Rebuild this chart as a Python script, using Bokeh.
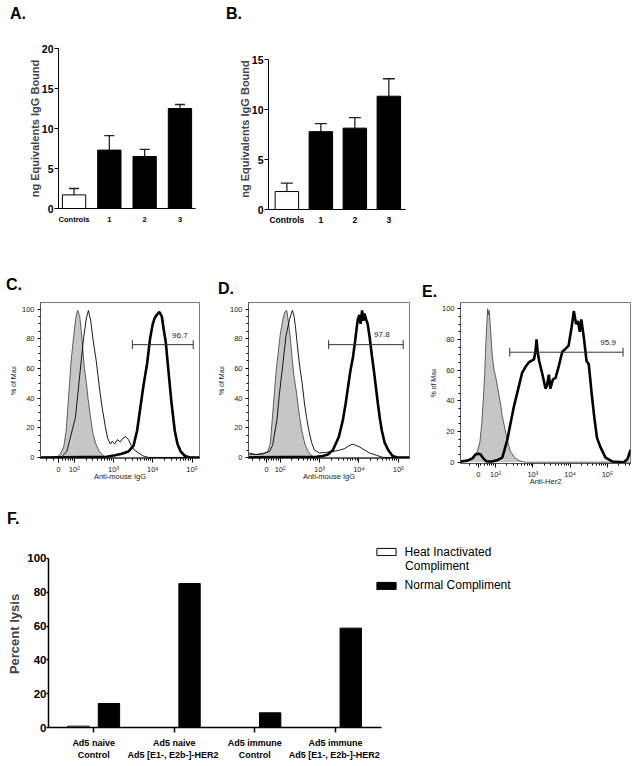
import math
from bokeh.plotting import figure
from bokeh.models import (FixedTicker, Legend, LegendItem, Whisker, TeeHead, Label,
                          ColumnDataSource, Range1d, Div)
from bokeh.layouts import row, column
from bokeh.transform import dodge
from bokeh.embed import file_html
from bokeh.resources import INLINE
from bokeh.core.properties import value

FONT = "Liberation Sans"

# ---------------- data ----------------
A_groups = ["Controls", "1", "2", "3"]
A_mean = [1.7, 7.3, 6.5, 12.5]
A_sem = [0.8, 1.8, 0.9, 0.5]
A_ticks = [0, 5, 10, 15, 20]

B_groups = ["Controls", "1", "2", "3"]
B_mean = [1.8, 7.8, 8.15, 11.35]
B_sem = [0.85, 0.8, 1.05, 1.75]
B_ticks = [0, 5, 10, 15]

bar_fills = ["white", "black", "black", "black"]
IGG_LABEL = "ng Equivalents IgG Bound"

# flow cytometry histograms: x in display decades of the biexponential axis, y in % of max
FLOW_TICK_LABELS = ["0", "10²", "10³", "10⁴", "10⁵"]
FLOW_Y_TICKS = [0, 20, 40, 60, 80, 100]

C_zero = 1.60
C_gray_x = [1.14, 1.54, 1.64, 1.73, 1.79, 1.84, 1.88, 1.92, 1.97, 2.02, 2.06, 2.09, 2.14,
            2.18, 2.22, 2.26, 2.31, 2.35, 2.41, 2.47, 2.55, 2.64, 2.75, 2.83, 5.19]
C_gray_y = [0, 0, 2, 7, 17, 35, 50, 65, 78, 90, 97, 99, 95, 85, 72, 60, 50, 40, 28, 17, 9,
            4, 1, 0, 0]
C_thin_x = [1.14, 1.66, 1.81, 2.03, 2.15, 2.24, 2.31, 2.36, 2.42, 2.47, 2.52, 2.56, 2.60,
            2.66, 2.72, 2.79, 2.85, 2.92, 2.97, 3.03, 3.10, 3.17, 3.24, 3.31, 3.38, 3.45,
            3.53, 3.64, 3.76, 3.89, 5.19]
C_thin_y = [0, 0, 4, 27, 58, 81, 94, 99, 92, 81, 72, 65, 56, 43, 32, 21, 13, 9, 11, 9, 12,
            10.5, 13, 14, 12, 8, 5, 3, 1, 0, 0]
C_thick_x = [1.14, 2.83, 3.04, 3.21, 3.38, 3.51, 3.60, 3.68, 3.76, 3.86, 3.93, 4.00, 4.05,
             4.10, 4.17, 4.23, 4.28, 4.33, 4.40, 4.48, 4.56, 4.63, 4.71, 4.82, 4.95, 5.19]
C_thick_y = [0, 0.5, 1.5, 2.5, 4, 8, 18, 33, 48, 64, 80, 90, 94, 96, 98, 95, 86, 78, 58,
             36, 18, 9, 4, 1, 0, 0]
C_gate_x = [3.48, 5.03]
C_gate_y = 76
C_gate_text = "96.7"
C_gate_label_xy = (4.69, 82)

D_zero = 1.66
D_gray_x = [1.20, 1.39, 1.56, 1.69, 1.75, 1.80, 1.86, 1.90, 1.95, 2.00, 2.07, 2.12, 2.17,
            2.22, 2.26, 2.31, 2.35, 2.41, 2.47, 2.55, 2.63, 2.71, 2.81, 2.92, 5.28]
D_gray_y = [2, 2, 2, 4, 9, 25, 45, 58, 70, 82, 93, 98, 99, 90, 80, 66, 55, 45, 32, 18, 9,
            4, 1, 0, 0]
D_thin_x = [1.20, 1.39, 1.60, 1.73, 1.81, 1.92, 1.98, 2.05, 2.15, 2.24, 2.31, 2.35, 2.39,
            2.46, 2.51, 2.56, 2.62, 2.67, 2.73, 2.80, 2.87, 3.00, 3.17, 3.34, 3.51, 3.64,
            3.75, 3.85, 3.93, 4.02, 4.14, 4.27, 4.44, 4.61, 5.28]
D_thin_y = [3, 2, 3, 4, 8, 25, 42, 58, 82, 93, 99, 96, 88, 70, 59, 50, 36, 27, 18, 10, 5,
            3, 3.5, 4, 5, 6, 8, 9, 8, 7, 5, 3, 1.5, 0, 0]
D_thick_x = [1.20, 2.92, 3.08, 3.21, 3.34, 3.49, 3.59, 3.66, 3.78, 3.85, 3.90, 3.94, 3.97,
             4.01, 4.04, 4.08, 4.11, 4.14, 4.18, 4.22, 4.27, 4.32, 4.38, 4.43, 4.48, 4.53,
             4.58, 4.65, 4.74, 4.85, 4.97, 5.28]
D_thick_y = [0, 0.5, 1, 2, 5, 14, 25, 36, 58, 68, 78, 87, 93, 96, 90, 99, 92, 97, 93, 90,
             81, 70, 58, 47, 36, 26, 18, 10, 5, 1, 0, 0]
D_gate_x = [3.23, 5.12]
D_gate_y = 76
D_gate_text = "97.8"
D_gate_label_xy = (4.58, 83)

E_zero = 1.54
E_gray_x = [1.06, 1.29, 1.42, 1.51, 1.58, 1.63, 1.67, 1.71, 1.74, 1.77, 1.79, 1.80, 1.83,
            1.87, 1.91, 1.96, 2.01, 2.06, 2.12, 2.18, 2.25, 2.33, 2.40, 2.51, 2.63, 2.80, 5.62]
E_gray_y = [0, 1, 3, 7, 13, 25, 40, 58, 78, 92, 100, 96, 99, 85, 70, 60, 55, 48, 40, 30,
            22, 13, 7, 3, 1, 0, 0]
E_thick_x = [1.06, 1.24, 1.38, 1.46, 1.54, 1.60, 1.67, 1.76, 1.91, 2.06, 2.18, 2.24, 2.31,
             2.40, 2.49, 2.58, 2.65, 2.71, 2.80, 2.89, 2.96, 3.03, 3.07, 3.10, 3.13, 3.17,
             3.25, 3.34, 3.38, 3.43, 3.47, 3.54, 3.61, 3.70, 3.79, 3.88, 3.96, 4.04, 4.10,
             4.16, 4.21, 4.26, 4.30, 4.37, 4.44, 4.50, 4.59, 4.65, 4.72, 4.81, 4.95, 5.13,
             5.44, 5.54, 5.60, 5.62]
E_thick_y = [0.5, 1, 2.5, 5, 5.5, 5, 2.5, 0.5, 0.5, 1.5, 3, 8, 14, 25, 36, 45, 52, 58, 62,
             65, 66, 67, 72, 80, 72, 66, 58, 48, 50, 57, 48, 54, 55, 63, 72, 74, 76, 88,
             98.5, 90, 92, 85, 93, 81, 66, 64, 42, 29, 16, 10, 3, 0.5, 0, 2, 6.5, 8]
E_gate_x = [2.38, 5.42]
E_gate_y = 71.7
E_gate_text = "95.9"
E_gate_label_xy = (5.02, 78.3)

F_groups = ["Ad5 naive\nControl", "Ad5 naive\nAd5 [E1-,  E2b-]-HER2",
            "Ad5 immune\nControl", "Ad5 immune\nAd5 [E1-,  E2b-]-HER2"]
F_heat = [0.8, 0, 0, 0]
F_normal = [14.2, 85.2, 8.7, 58.8]
F_series = ["Heat Inactivated", "Compliment", "Normal Compliment"]
F_ticks = [0, 20, 40, 60, 80, 100]

PANEL_LETTERS = ["A.", "B.", "C.", "D.", "E.", "F."]


# ---------------- helpers ----------------
def base_fig(fw, fh, left, right, top, bottom, xr, yr):
    p = figure(frame_width=fw, frame_height=fh,
               min_border_left=left, min_border_right=right,
               min_border_top=top, min_border_bottom=bottom,
               x_range=Range1d(*xr), y_range=Range1d(*yr),
               output_backend="svg", toolbar_location=None)
    p.grid.visible = False
    p.outline_line_color = None
    p.background_fill_color = "white"
    p.border_fill_color = "white"
    return p


def letter_div(text, width, height, pad_top, pad_left=0):
    html = ('<div style="font-family:\'%s\';font-size:16px;font-weight:bold;'
            'line-height:18px;color:black;white-space:nowrap;'
            'padding-top:%dpx;padding-left:%dpx;margin:0;">%s</div>') % (
                FONT, pad_top, pad_left, text)
    return Div(text=html, width=width, height=height, margin=0)


def bar_panel(groups, mean, sem, ticks, yr, ybounds, fw, fh, borders, xr, bar_w, xfont,
              cap, xstand):
    p = base_fig(fw, fh, *borders, xr, yr)
    xs = list(range(len(groups)))
    src = ColumnDataSource(dict(x=xs, top=mean,
                                upper=[m + s for m, s in zip(mean, sem)],
                                fill=bar_fills))
    p.vbar(x="x", top="top", width=bar_w, fill_color="fill", line_color="black",
           line_width=1, source=src)
    p.add_layout(Whisker(source=src, base="x", lower="top", upper="upper",
                         dimension="height", line_color="#222", line_width=1.3,
                         lower_head=None,
                         upper_head=TeeHead(size=cap, line_color="#222", line_width=1.3)))
    xa = p.xaxis[0]
    xa.ticker = FixedTicker(ticks=xs)
    xa.major_label_overrides = {i: g for i, g in enumerate(groups)}
    xa.major_tick_out = 0
    xa.major_tick_in = 0
    xa.minor_tick_out = 0
    xa.minor_tick_in = 0
    xa.major_label_standoff = xstand
    xa.major_label_text_font = FONT
    xa.major_label_text_font_size = xfont
    xa.major_label_text_font_style = "bold"
    xa.major_label_text_color = "black"
    xa.axis_line_color = "black"
    ya = p.yaxis[0]
    ya.bounds = ybounds
    ya.ticker = FixedTicker(ticks=ticks)
    ya.major_tick_out = 4
    ya.major_tick_in = 0
    ya.minor_tick_out = 0
    ya.minor_tick_in = 0
    ya.major_label_standoff = 1
    ya.major_label_text_font = FONT
    ya.major_label_text_font_size = "10.5px"
    ya.major_label_text_font_style = "bold"
    ya.major_label_text_color = "black"
    ya.axis_label = IGG_LABEL
    ya.axis_label_text_font = FONT
    ya.axis_label_text_font_size = "11px"
    ya.axis_label_text_font_style = "bold"
    ya.axis_label_standoff = -2
    ya.axis_line_color = "black"
    ya.major_tick_line_color = "black"
    return p


def flow_panel(fw, fh, borders, xr, yr, zero_pos, gray, thin, thick, gate_x, gate_y,
               gate_text, gate_label_xy, xlabel):
    p = base_fig(fw, fh, *borders, xr, yr)
    p.outline_line_color = "#7a7a7a"
    gx, gy = gray
    p.varea(x=gx, y1=0, y2=gy, fill_color="#c6c6c6")
    p.line(gx, gy, line_color="#3a3a3a", line_width=0.8)
    if thin is not None:
        p.line(thin[0], thin[1], line_color="black", line_width=0.9)
    p.line(thick[0], thick[1], line_color="black", line_width=2.6)
    p.segment(x0=[gate_x[0]], y0=[gate_y], x1=[gate_x[1]], y1=[gate_y],
              line_color="#333", line_width=1)
    p.scatter(x=gate_x, y=[gate_y, gate_y], marker="dash", angle=math.pi / 2, size=9,
              line_color="#333", line_width=1)
    p.text(x=[gate_label_xy[0]], y=[gate_label_xy[1]], text=[gate_text],
           text_font=value(FONT), text_font_size="8px", text_align="center",
           text_baseline="middle", text_color="#222")
    major = [zero_pos, 2, 3, 4, 5]
    minor = [math.log10(k * 10 ** n) for n in (1, 2, 3, 4, 5) for k in range(2, 10)]
    minor = [m for m in minor if xr[0] < m < xr[1]]
    xa = p.xaxis[0]
    xa.ticker = FixedTicker(ticks=major, minor_ticks=minor)
    xa.major_label_overrides = dict(zip(major, FLOW_TICK_LABELS))
    xa.major_tick_out = 4
    xa.major_tick_in = 0
    xa.minor_tick_out = 2
    xa.minor_tick_in = 0
    xa.major_label_standoff = 2
    xa.major_label_text_font = FONT
    xa.major_label_text_font_size = "7.5px"
    xa.major_label_text_color = "#222"
    xa.axis_label = xlabel
    xa.axis_label_text_font = FONT
    xa.axis_label_text_font_size = "7.5px"
    xa.axis_label_text_font_style = "normal"
    xa.axis_label_text_color = "#222"
    xa.axis_label_standoff = -5
    xa.axis_line_color = "#555"
    ya = p.yaxis[0]
    ya.ticker = FixedTicker(ticks=FLOW_Y_TICKS,
                            minor_ticks=[v for v in range(0, 101, 5)])
    ya.major_tick_out = 3
    ya.major_tick_in = 0
    ya.minor_tick_out = 2
    ya.minor_tick_in = 0
    ya.major_label_standoff = 3
    ya.major_label_text_font = FONT
    ya.major_label_text_font_size = "7.5px"
    ya.major_label_text_color = "#222"
    ya.axis_label = "% of Max"
    ya.axis_label_text_font = FONT
    ya.axis_label_text_font_size = "7px"
    ya.axis_label_text_font_style = "normal"
    ya.axis_label_text_color = "#222"
    ya.axis_label_standoff = 2
    ya.axis_line_color = "#555"
    return p


# ---------------- panels A, B (frames share the same top edge in the row) ----------------
pA = bar_panel(A_groups, A_mean, A_sem, A_ticks, (0, 20), (0, 20), 137, 160,
               (58, 18, 25, 28), (-0.44, 3.44), 0.66, "7.5px", 10, 6)
pB = bar_panel(B_groups, B_mean, B_sem, B_ticks, (0, 16.13), (0, 15), 137, 161,
               (55, 15, 25, 27), (-0.54, 3.49), 0.69, "8.5px", 12, 5)

# ---------------- panels C, D, E ----------------
pC = flow_panel(159, 156, (40, 6, 1, 32), (1.14, 5.19), (-0.7, 104.4), C_zero,
                (C_gray_x, C_gray_y), (C_thin_x, C_thin_y), (C_thick_x, C_thick_y),
                C_gate_x, C_gate_y, C_gate_text, C_gate_label_xy, "Anti-mouse IgG")
pD = flow_panel(161, 156, (43, 3, 1, 32), (1.20, 5.28), (-0.7, 104.4), D_zero,
                (D_gray_x, D_gray_y), (D_thin_x, D_thin_y), (D_thick_x, D_thick_y),
                D_gate_x, D_gate_y, D_gate_text, D_gate_label_xy, "Anti-mouse IgG")
pE = flow_panel(170, 161, (48, 2, 1, 32), (1.06, 5.62), (-0.85, 104.1), E_zero,
                (E_gray_x, E_gray_y), None, (E_thick_x, E_thick_y),
                E_gate_x, E_gate_y, E_gate_text, E_gate_label_xy, "Anti-Her2")

# ---------------- panel F ----------------
F_xr = (-0.56, 3.57)
F_yr = (0, 100)
pF = base_fig(482, 187, 48, 99, 12, 31, (F_xr[0], 5.42), (F_yr[0], 110.65))
xsF = list(range(len(F_groups)))
srcF = ColumnDataSource(dict(x=xsF, heat=F_heat, normal=F_normal))
r_heat = pF.vbar(x=dodge("x", -0.19, range=pF.x_range), top="heat", width=0.265,
                 fill_color="white", line_color="black", line_width=1, source=srcF)
r_norm = pF.vbar(x=dodge("x", 0.19, range=pF.x_range), top="normal", width=0.265,
                 fill_color="black", line_color="black", line_width=1, source=srcF)
legend_style = dict(padding=0, margin=0, spacing=0, glyph_width=24, glyph_height=9,
                    label_height=16, label_width=10, label_standoff=7,
                    border_line_color=None, background_fill_alpha=0,
                    label_text_font=FONT, label_text_font_size="12px",
                    label_text_color="black", label_text_baseline="middle")
pF.add_layout(Legend(items=[LegendItem(label=F_series[0], renderers=[r_heat])],
                     location=(325.6, 167.5), **legend_style))
pF.add_layout(Legend(items=[LegendItem(label=F_series[2], renderers=[r_norm])],
                     location=(325.6, 134), **legend_style))
pF.add_layout(Label(x=356.6, y=162, x_units="screen", y_units="screen", text=F_series[1],
                    text_font=FONT, text_font_size="12px", text_color="black",
                    text_baseline="middle", text_align="left"))
xa = pF.xaxis[0]
xa.bounds = F_xr
xa.ticker = FixedTicker(ticks=xsF)
xa.major_label_overrides = {i: g for i, g in enumerate(F_groups)}
xa.major_tick_out = 5
xa.major_tick_in = 0
xa.minor_tick_out = 0
xa.minor_tick_in = 0
xa.major_label_standoff = 5
xa.major_label_text_font = FONT
xa.major_label_text_font_size = "9px"
xa.major_label_text_font_style = "bold"
xa.major_label_text_color = "black"
xa.axis_line_width = 1.5
xa.major_tick_line_width = 1.5
xa.axis_line_color = "black"
ya = pF.yaxis[0]
ya.bounds = F_yr
ya.ticker = FixedTicker(ticks=F_ticks)
ya.major_tick_out = 2
ya.major_tick_in = 0
ya.minor_tick_out = 0
ya.minor_tick_in = 0
ya.major_label_standoff = 0
ya.major_label_text_font = FONT
ya.major_label_text_font_size = "11.5px"
ya.major_label_text_font_style = "bold"
ya.major_label_text_color = "black"
ya.axis_label = "Percent lysis"
ya.axis_label_text_font = FONT
ya.axis_label_text_font_size = "13px"
ya.axis_label_text_font_style = "bold"
ya.axis_label_standoff = 2
ya.axis_line_width = 1.5
ya.major_tick_line_width = 1.5
ya.axis_line_color = "black"

# ---------------- layout ----------------
letters1 = row(letter_div(PANEL_LETTERS[0], 226, 23, 5, 10),
               letter_div(PANEL_LETTERS[1], 194, 23, 5, 0))
letters2 = row(letter_div(PANEL_LETTERS[2], 218, 65, 40, 6),
               letter_div(PANEL_LETTERS[3], 204, 65, 44, 0),
               letter_div(PANEL_LETTERS[4], 60, 65, 47, 0))
letters3 = row(letter_div(PANEL_LETTERS[5], 60, 33, 15, 7))

layout = column(letters1, row(pA, pB), letters2, row(pC, pD, pE), letters3, pF)

with open("out.html", "w") as f:
    f.write(file_html(layout, INLINE))
